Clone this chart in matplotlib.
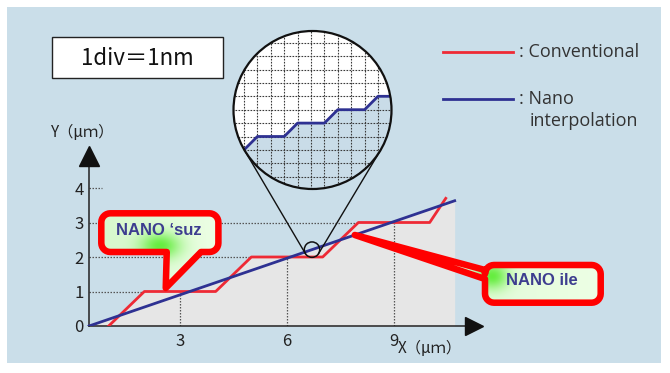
import numpy as np
import matplotlib.pyplot as plt
from matplotlib.patches import Circle, Rectangle, Polygon

W, H = 670, 373

# chart data (um)
red_x = [1, 2, 4, 5, 7, 8, 10, 10.45]
red_y = [0, 1, 1, 2, 2, 3, 3, 3.7]
blue_x = [0.45, 10.7]
blue_y = [0, 3.63]
x_ticks = [3, 6, 9]
y_ticks = [0, 1, 2, 3, 4]

# magnified staircase (1 div units)
zoom_x = [-5, -4, -2, -1, 1, 2, 4, 5, 7]
zoom_y = [-3, -2, -2, -1, -1, 0, 0, 1, 1]
zoom_at = 6.7

label_1 = "NANO \u2018suz"
label_2 = "NANO ile"
point_1 = (2.6, 1.0)
point_2_x = 7.9

RED = '#EE2A35'
BLUE = '#2E3192'
CALLOUT_RED = '#FF0000'
TXT = '#3D3D8F'
BG = '#CADEE9'
CJK = ['Noto Sans CJK JP', 'DejaVu Sans']

fig = plt.figure(figsize=(W / 100, H / 100), dpi=100)

bg = fig.add_axes([0, 0, 1, 1], zorder=0)
bg.set_xlim(0, W)
bg.set_ylim(H, 0)
bg.axis('off')
bg.add_patch(Rectangle((7, 7), 654, 356, fc=BG, ec='none'))

# main chart, 35.67 px per um in x, 34.5 px per um in y
ax = fig.add_axes([73 / W, 47 / H, 12 * 35.67 / W, 5.5 * 34.5 / H], zorder=2)
ax.set_xlim(0, 12)
ax.set_ylim(0, 5.5)
ax.patch.set_alpha(0)
x0 = blue_x[0]
for s in ['top', 'right']:
    ax.spines[s].set_visible(False)
ax.spines['left'].set_position(('data', x0))
ax.spines['left'].set_bounds(0, 4.7)
ax.spines['bottom'].set_bounds(x0, 11.0)
for s in ['left', 'bottom']:
    ax.spines[s].set_color('#222222')
    ax.spines[s].set_linewidth(1.1)
ax.set_xticks(x_ticks)
ax.set_yticks(y_ticks)
ax.tick_params(length=0, labelsize=12, colors='#222222')
ax.tick_params(axis='x', pad=5)
ax.tick_params(axis='y', pad=4)
for t in ax.get_xticklabels() + ax.get_yticklabels():
    t.set_family(CJK)

xs = np.linspace(blue_x[0], blue_x[-1], 600)
top = np.maximum(np.interp(xs, red_x, red_y, right=0), np.interp(xs, blue_x, blue_y))
ax.fill_between(xs, 0, top, color='#E6E6E6', lw=0, zorder=1)

dot = dict(color='#555555', lw=0.9, ls=(0, (1.2, 1.2)))
for y in y_ticks[1:-1]:
    ax.plot([x0, blue_x[-1]], [y, y], zorder=0.5, **dot)
ax.plot([x0, 0.8], [y_ticks[-1]] * 2, zorder=0.5, **dot)
for x in x_ticks:
    ax.plot([x, x], [0, np.interp(x, red_x, red_y)], zorder=2, **dot)

ax.plot(red_x, red_y, color=RED, lw=2, zorder=3)
ax.plot(blue_x, blue_y, color=BLUE, lw=2, zorder=4)

ax.plot(x0, 4.93, marker='^', ms=14.4, color='#111111', clip_on=False, zorder=5)
ax.plot(11.23, 0, marker='>', ms=13.5, color='#111111', clip_on=False, zorder=5)


def to_px(x, y):
    dx, dy = ax.transData.transform((x, y))
    return dx, H - dy


ov = fig.add_axes([0, 0, 1, 1], zorder=3)
ov.axis('off')

ov.text(83, 132, 'Y\uff08\u03bc\uff4d\uff09', ha='center', va='center', fontsize=11,
        family=CJK, color='#222222')
ov.text(430, 349, 'X\uff08\u03bc\uff4d\uff09', ha='center', va='center', fontsize=11,
        family=CJK, color='#222222')

# 1div box
ov.add_patch(Rectangle((51.7, 37.3), 171, 41, fc='white', ec='#222222', lw=1))
ov.text(137, 58.5, '1div\uff1d1nm', ha='center', va='center', fontsize=16,
        family=CJK, color='#111111')

# legend
ov.plot([442.7, 513.3], [51.7, 51.7], color=RED, lw=2)
ov.plot([442.7, 513.3], [99.3, 99.3], color=BLUE, lw=2)
lg = dict(ha='left', va='center', fontsize=13, family='Open Sans', color='#333333')
ov.text(519, 51.7, ': Conventional', **lg)
ov.text(519, 99.3, ': Nano', **lg)
ov.text(530, 121.5, 'interpolation', **lg)

# magnifier: big circle + small circle + tangents
C1 = np.array([312.5, 110.0])
r1 = 79.0
C2 = np.array(to_px(zoom_at, np.interp(zoom_at, blue_x, blue_y)))
r2 = 7.7
ov.add_patch(Circle(C2, r2, fc='none', ec='#111111', lw=1.1, zorder=4))
d = np.linalg.norm(C2 - C1)
u = (C2 - C1) / d
perp = np.array([-u[1], u[0]])
a = (r1 - r2) / d
b = np.sqrt(1 - a * a)
for sgn in (1, -1):
    n = a * u + sgn * b * perp
    p1 = C1 + r1 * n
    p2 = C2 + r2 * n
    ov.plot([p1[0], p2[0]], [p1[1], p2[1]], color='#111111', lw=1, zorder=2)

unit = 13.4
mc = (311.0, 109.7)
span = 7
mag = fig.add_axes([(mc[0] - span * unit) / W, (H - mc[1] - span * unit) / H,
                    2 * span * unit / W, 2 * span * unit / H], zorder=4)
mag.set_xlim(-span, span)
mag.set_ylim(-span, span)
mag.axis('off')
cc = ((C1[0] - mc[0]) / unit, -(C1[1] - mc[1]) / unit)
clip = Circle(cc, r1 / unit, transform=mag.transData)
mag.add_patch(Circle(cc, r1 / unit, fc='white', ec='none', zorder=0))
f = mag.fill_between(zoom_x, zoom_y, -7, color='#C9DCE8', lw=0, zorder=1)
f.set_clip_path(clip)
for k in range(-6, 7):
    for ln in mag.plot([k, k], [-7, 7], color='#3A3A3A', lw=0.8, ls=(0, (1.5, 1.2)), zorder=2):
        ln.set_clip_path(clip)
    for ln in mag.plot([-7, 7], [k, k], color='#3A3A3A', lw=0.8, ls=(0, (1.5, 1.2)), zorder=2):
        ln.set_clip_path(clip)
for ln in mag.plot(zoom_x, zoom_y, color=BLUE, lw=2, zorder=3):
    ln.set_clip_path(clip)
mag.add_patch(Circle(cc, r1 / unit, fc='none', ec='#111111', lw=1.6, zorder=4))


def rounded(x0, y0, x1, y1, r, bottom=None, left=None):
    # clockwise in y-down pixel coords, optional pointers on bottom / left edges
    pts = []
    def arc(cx, cy, t0, t1):
        for t in np.radians(np.linspace(t0, t1, 8)):
            pts.append((cx + r * np.cos(t), cy + r * np.sin(t)))
    arc(x0 + r, y0 + r, 180, 270)
    arc(x1 - r, y0 + r, 270, 360)
    arc(x1 - r, y1 - r, 0, 90)
    if bottom:
        xr, xl, tip = bottom
        pts += [(xr, y1), tip, (xl, y1)]
    arc(x0 + r, y1 - r, 90, 180)
    if left:
        yb, yt, tip = left
        pts += [(x0, yb), tip, (x0, yt)]
    return pts


def callout(pts, glow, glow_r, label, txy):
    pts = np.array(pts)
    base = Polygon(pts, closed=True, fc='#E4FCD8', ec='none', zorder=5)
    ov.add_patch(base)
    xmin, ymin = pts.min(axis=0) - 2
    xmax, ymax = pts.max(axis=0) + 2
    gx, gy = np.meshgrid(np.linspace(xmin, xmax, 240), np.linspace(ymin, ymax, 140))
    w = np.exp(-((gx - glow[0]) / glow_r[0]) ** 2 - ((gy - glow[1]) / glow_r[1]) ** 2)
    # pale mint, slightly deeper on the left
    k = np.clip((gx - xmin) / (xmax - xmin), 0, 1)[..., None]
    pale = np.array([0.84, 0.97, 0.80]) * (1 - k) + np.array([0.93, 1.0, 0.90]) * k
    green = np.array([0.40, 0.93, 0.25])
    img = pale * (1 - w[..., None]) + green[None, None, :] * w[..., None]
    im = ov.imshow(img, extent=(xmin, xmax, ymax, ymin), origin='upper',
                   aspect='auto', zorder=5.5, interpolation='bilinear')
    im.set_clip_path(base)
    ov.add_patch(Polygon(pts, closed=True, fc='none', ec=CALLOUT_RED, lw=4.7,
                         joinstyle='round', zorder=6))
    ov.text(txy[0], txy[1], label, ha='center', va='center', fontsize=12,
            fontweight='bold', family='Liberation Sans', color=TXT, zorder=7)


tip1 = to_px(*point_1)
tip1 = (tip1[0], tip1[1] - 3.5)
callout(rounded(101.3, 213.3, 218.4, 252, 9, bottom=(201, tip1[0] + 1, tip1)),
        (160, 246), (20, 13), label_1, (159, 230.5))

tip2 = to_px(point_2_x, np.interp(point_2_x, blue_x, blue_y))
callout(rounded(485, 265, 600.7, 302.7, 9, left=(279, 270, tip2)),
        (492, 276), (16, 13), label_2, (542, 280.5))

ov.set_xlim(0, W)
ov.set_ylim(H, 0)

fig.savefig('out.png', dpi=100, facecolor='white')
